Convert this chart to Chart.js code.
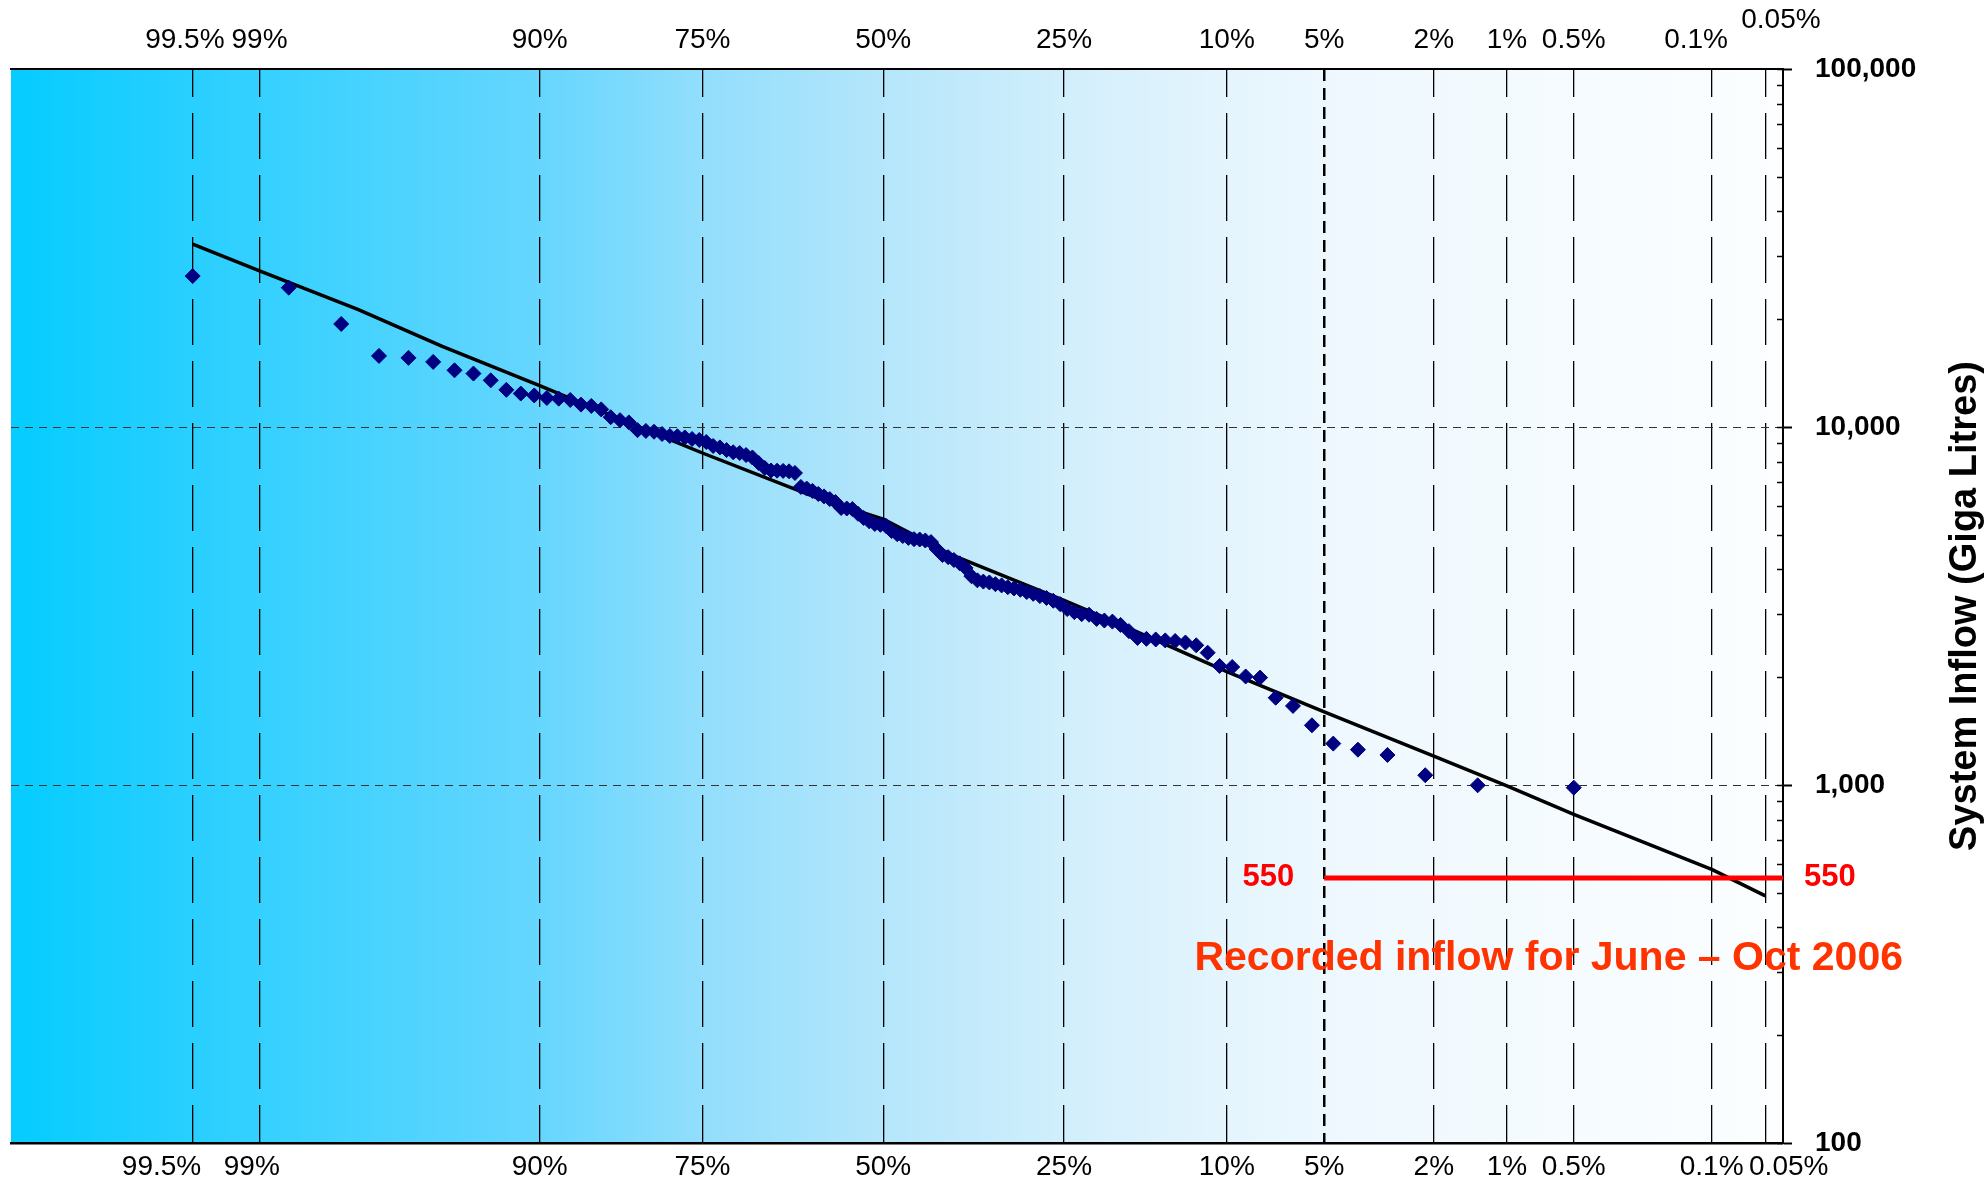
<!DOCTYPE html>
<html>
<head>
<meta charset="utf-8">
<title>System Inflow probability plot</title>
<script src="https://cdn.jsdelivr.net/npm/chart.js@4.4.1/dist/chart.umd.min.js"></script>
<style>
  html, body { margin: 0; padding: 0; background: #fff; }
  #wrap { width: 1984px; height: 1188px; }
</style>
</head>
<body>
<div id="wrap"><canvas id="chart" width="1984" height="1188"></canvas></div>
<script>
// probability axis ticks (%)
const xTickPct = [99.5, 99, 90, 75, 50, 25, 10, 5, 2, 1, 0.5, 0.1, 0.05];
const xTickText = ['99.5%', '99%', '90%', '75%', '50%', '25%', '10%', '5%', '2%', '1%', '0.5%', '0.1%', '0.05%'];
const xEdgePct = [99.943, 0.0395];
const yTickLabels = [100, 1000, 10000, 100000];
const yGridLines = [1000, 10000];

// observed inflows, left to right
const obsPct = [
  99.5, 98.67, 97.84, 97.0, 96.17, 95.34, 94.51, 93.68, 92.84, 92.01,
  91.18, 90.35, 89.52, 88.69, 87.85, 87.02, 86.19, 85.36, 84.53, 83.69,
  82.86, 82.03, 81.2, 80.37, 79.53, 78.7, 77.87, 77.04, 76.21, 75.37,
  74.54, 73.71, 72.88, 72.05, 71.21, 70.38, 69.55, 68.72, 67.89, 67.06,
  66.22, 65.39, 64.56, 63.73, 62.9, 62.06, 61.23, 60.4, 59.57, 58.74,
  57.9, 57.07, 56.24, 55.41, 54.58, 53.74, 52.91, 52.08, 51.25, 50.42,
  49.58, 48.75, 47.92, 47.09, 46.26, 45.42, 44.59, 43.76, 42.93, 42.1,
  41.26, 40.43, 39.6, 38.77, 37.94, 37.1, 36.27, 35.44, 34.61, 33.78,
  32.94, 32.11, 31.28, 30.45, 29.62, 28.79, 27.95, 27.12, 26.29, 25.46,
  24.63, 23.79, 22.96, 22.13, 21.3, 20.47, 19.63, 18.8, 17.97, 17.14,
  16.31, 15.47, 14.64, 13.81, 12.98, 12.15, 11.31, 10.48, 9.65, 8.82,
  7.99, 7.16, 6.32, 5.49, 4.66, 3.83, 3.0, 2.16, 1.33, 0.5
];
const obsFlow = [
  26400, 24500, 19400, 15800, 15600, 15200, 14400, 14100, 13500, 12700,
  12400, 12250, 12050, 12000, 11900, 11550, 11450, 11200, 10650, 10450,
  10300, 9800, 9750, 9700, 9560, 9440, 9420, 9350, 9260, 9200,
  9080, 8850, 8770, 8620, 8500, 8460, 8350, 8220, 7930, 7680,
  7560, 7550, 7540, 7520, 7440, 6800, 6730, 6630, 6500, 6400,
  6290, 6170, 5940, 5920, 5900, 5720, 5570, 5450, 5360, 5330,
  5290, 5120, 5020, 4960, 4900, 4860, 4850, 4820, 4770, 4560,
  4390, 4330, 4250, 4160, 4040, 3830, 3730, 3700, 3680, 3640,
  3610, 3570, 3540, 3510, 3460, 3420, 3370, 3330, 3270, 3200,
  3100, 3040, 3000, 2990, 2910, 2880, 2860, 2800, 2690, 2575,
  2560, 2550, 2535, 2525, 2500, 2456, 2342, 2150, 2136, 2010,
  1995, 1753, 1663, 1468, 1305, 1255, 1213, 1065, 998, 983
];

// fitted distribution line
const fitPct = [99.5, 99, 97.5, 95, 90, 80, 75, 60, 50, 40, 25, 20, 10, 5, 2, 1, 0.5, 0.1, 0.05];
const fitFlow = [32400, 27300, 21300, 16800, 13050, 9520, 8460, 6370, 5530, 4400, 3280, 2900, 2073, 1600, 1205, 994, 828, 581, 490];

// recorded inflow June - Oct 2006
const recordedPct = [5, 0.0395];
const recordedFlow = [550, 550];

const FONT = '"Liberation Sans", Arial, sans-serif';
Chart.defaults.font.family = FONT;
Chart.defaults.color = '#000';

// inverse normal CDF (Acklam)
function probit(p) {
  const a = [-39.69683028665376, 220.9460984245205, -275.9285104469687, 138.3577518672690, -30.66479806614716, 2.506628277459239];
  const b = [-54.47609879822406, 161.5858368580409, -155.6989798598866, 66.80131188771972, -13.28068155288572];
  const c = [-0.007784894002430293, -0.3223964580411365, -2.400758277161838, -2.549732539343734, 4.374664141464968, 2.938163982698783];
  const d = [0.007784695709041462, 0.3224671290700398, 2.445134137142996, 3.754408661907416];
  const pl = 0.02425;
  let q, r;
  if (p < pl) {
    q = Math.sqrt(-2 * Math.log(p));
    return (((((c[0]*q+c[1])*q+c[2])*q+c[3])*q+c[4])*q+c[5]) / ((((d[0]*q+d[1])*q+d[2])*q+d[3])*q+1);
  }
  if (p > 1 - pl) {
    q = Math.sqrt(-2 * Math.log(1 - p));
    return -(((((c[0]*q+c[1])*q+c[2])*q+c[3])*q+c[4])*q+c[5]) / ((((d[0]*q+d[1])*q+d[2])*q+d[3])*q+1);
  }
  q = p - 0.5; r = q * q;
  return (((((a[0]*r+a[1])*r+a[2])*r+a[3])*r+a[4])*r+a[5])*q / (((((b[0]*r+b[1])*r+b[2])*r+b[3])*r+b[4])*r+1);
}
// percentage -> position on the probability axis
const pos = (pct) => probit(1 - pct / 100);
const toXY = (pcts, vals) => pcts.map((p, i) => ({ x: pos(p), y: vals[i] }));

// hand-placed labels in the original: a few sit off-centre
const FS = '\u2007';
const topNudge = { '99.5%': [0, 1], '0.1%': [0, 2], '0.05%': [2, 0] };
const bottomNudge = { '99.5%': [0, 4], '99%': [0, 1], '0.05%': [3, 0] };
function nudged(text, map) {
  const n = map[text];
  return n ? FS.repeat(n[0]) + text + FS.repeat(n[1]) : text;
}

const isFive = (v) => Math.abs(v - pos(5)) < 1e-6;

const bgStops = [
  [0, 'rgb(5,204,255)'], [0.1, 'rgb(40,207,255)'], [0.3, 'rgb(102,214,254)'],
  [0.39, 'rgb(146,222,252)'], [0.49, 'rgb(180,230,251)'], [0.6, 'rgb(211,239,252)'],
  [0.69, 'rgb(229,245,253)'], [0.75, 'rgb(238,248,254)'], [1, 'rgb(252,254,255)']
];

const bgPlugin = {
  id: 'bg',
  beforeDraw(chart) {
    const { ctx, chartArea: a } = chart;
    const g = ctx.createLinearGradient(a.left, 0, a.right, 0);
    bgStops.forEach(s => g.addColorStop(s[0], s[1]));
    ctx.save();
    ctx.fillStyle = g;
    ctx.fillRect(a.left, a.top, a.right - a.left, a.bottom - a.top);
    ctx.restore();
  }
};

// short ticks on the inner side of the right axis
const innerTicks = {
  id: 'innerTicks',
  afterDatasetsDraw(chart) {
    const y = chart.scales.y;
    const right = chart.chartArea.right;
    const ctx = chart.ctx;
    ctx.save();
    ctx.strokeStyle = '#000';
    ctx.lineWidth = 1.5;
    y.ticks.forEach(t => {
      const py = Math.round(y.getPixelForValue(t.value)) + 0.5;
      ctx.beginPath();
      ctx.moveTo(right - 6, py);
      ctx.lineTo(right, py);
      ctx.stroke();
    });
    ctx.restore();
  }
};

const annotations = {
  id: 'annotations',
  afterDraw(chart) {
    const { ctx, chartArea: a, scales: { x, y } } = chart;
    const yy = y.getPixelForValue(recordedFlow[0]);
    ctx.save();
    ctx.font = 'bold 31px ' + FONT;
    ctx.fillStyle = '#FF0000';
    ctx.textBaseline = 'middle';
    ctx.textAlign = 'right';
    ctx.fillText(String(recordedFlow[0]), x.getPixelForValue(pos(recordedPct[0])) - 30, yy);
    ctx.textAlign = 'left';
    ctx.fillText(String(recordedFlow[0]), a.right + 21, yy);

    ctx.font = 'bold 41px ' + FONT;
    ctx.fillStyle = '#FF3300';
    ctx.textAlign = 'right';
    ctx.textBaseline = 'alphabetic';
    ctx.fillText('Recorded inflow for June \u2013 Oct 2006', a.right + 120, yy + 92);

    // axis title, reads bottom to top
    ctx.translate(1966, (a.top + a.bottom) / 2);
    ctx.rotate(-Math.PI / 2);
    ctx.font = 'bold 38px ' + FONT;
    ctx.fillStyle = '#000';
    ctx.textAlign = 'center';
    ctx.textBaseline = 'middle';
    ctx.fillText('System Inflow (Giga Litres)', 0, 0);
    ctx.restore();
  }
};

function setProbTicks(scale) {
  scale.ticks = xTickPct.map(p => ({ value: pos(p) }));
}

new Chart(document.getElementById('chart'), {
  type: 'scatter',
  data: {
    datasets: [
      {
        label: 'Recorded',
        data: toXY(recordedPct, recordedFlow),
        showLine: true,
        borderColor: '#FF0000',
        borderWidth: 5,
        pointRadius: 0,
        order: 0
      },
      {
        label: 'Observed',
        data: toXY(obsPct, obsFlow),
        pointStyle: 'rectRot',
        pointRadius: 7.5,
        backgroundColor: '#000080',
        borderColor: '#000080',
        borderWidth: 1,
        order: 1
      },
      {
        label: 'Fit',
        data: toXY(fitPct, fitFlow),
        showLine: true,
        borderColor: '#000',
        borderWidth: 3.5,
        borderJoinStyle: 'round',
        pointRadius: 0,
        order: 2
      }
    ]
  },
  options: {
    responsive: false,
    maintainAspectRatio: false,
    devicePixelRatio: 1,
    animation: false,
    layout: { padding: { left: 11, top: 0, right: 0, bottom: 0 } },
    plugins: { legend: { display: false }, tooltip: { enabled: false } },
    scales: {
      x: {
        type: 'linear',
        position: 'bottom',
        min: pos(xEdgePct[0]),
        max: pos(xEdgePct[1]),
        afterBuildTicks: setProbTicks,
        afterFit: (s) => { s.height = 45; },
        grid: {
          color: '#000',
          lineWidth: (c) => (c.tick && isFive(c.tick.value) ? 2.5 : 1.3),
          drawTicks: false
        },
        border: {
          display: true,
          color: '#000',
          width: 2.5,
          dash: (c) => (c.tick && isFive(c.tick.value) ? [12, 7] : [46, 16]),
          dashOffset: (c) => (c.tick && isFive(c.tick.value) ? 0 : 18)
        },
        ticks: {
          autoSkip: false,
          maxRotation: 0,
          padding: 7,
          font: { size: 28 },
          callback: (v, i) => nudged(xTickText[i], bottomNudge)
        }
      },
      xTop: {
        type: 'linear',
        position: 'top',
        min: pos(xEdgePct[0]),
        max: pos(xEdgePct[1]),
        afterBuildTicks: setProbTicks,
        afterFit: (s) => { s.height = 69; },
        grid: { drawOnChartArea: false, drawTicks: false },
        border: { display: true, color: '#000', width: 2 },
        ticks: {
          autoSkip: false,
          maxRotation: 0,
          padding: 19,
          font: { size: 28, lineHeight: 0.7 },
          callback: (v, i) => {
            const t = nudged(xTickText[i], topNudge);
            return xTickText[i] === '0.05%' ? [t, ''] : t;
          }
        }
      },
      y: {
        type: 'logarithmic',
        position: 'right',
        min: 100,
        max: 100000,
        afterBuildTicks: (scale) => {
          const ticks = [];
          yTickLabels.forEach((base, i) => {
            const last = i === yTickLabels.length - 1;
            for (let m = 1; m <= (last ? 1 : 9); m++) ticks.push({ value: base * m });
          });
          scale.ticks = ticks;
        },
        afterFit: (s) => { s.width = 201; },
        grid: {
          color: (c) => (c.tick && yGridLines.includes(c.tick.value) ? '#333' : 'rgba(0,0,0,0)'),
          lineWidth: 1,
          tickLength: 9,
          tickWidth: 2,
          tickColor: (c) => (c.tick && yTickLabels.includes(c.tick.value) ? '#000' : 'rgba(0,0,0,0)')
        },
        border: { display: true, color: '#000', width: 2, dash: [8, 6] },
        ticks: {
          autoSkip: false,
          padding: 23,
          font: { size: 28, weight: 'bold' },
          callback: (v) => (yTickLabels.includes(v) ? v.toLocaleString('en-US') : '')
        }
      }
    }
  },
  plugins: [bgPlugin, innerTicks, annotations]
});
</script>
</body>
</html>
